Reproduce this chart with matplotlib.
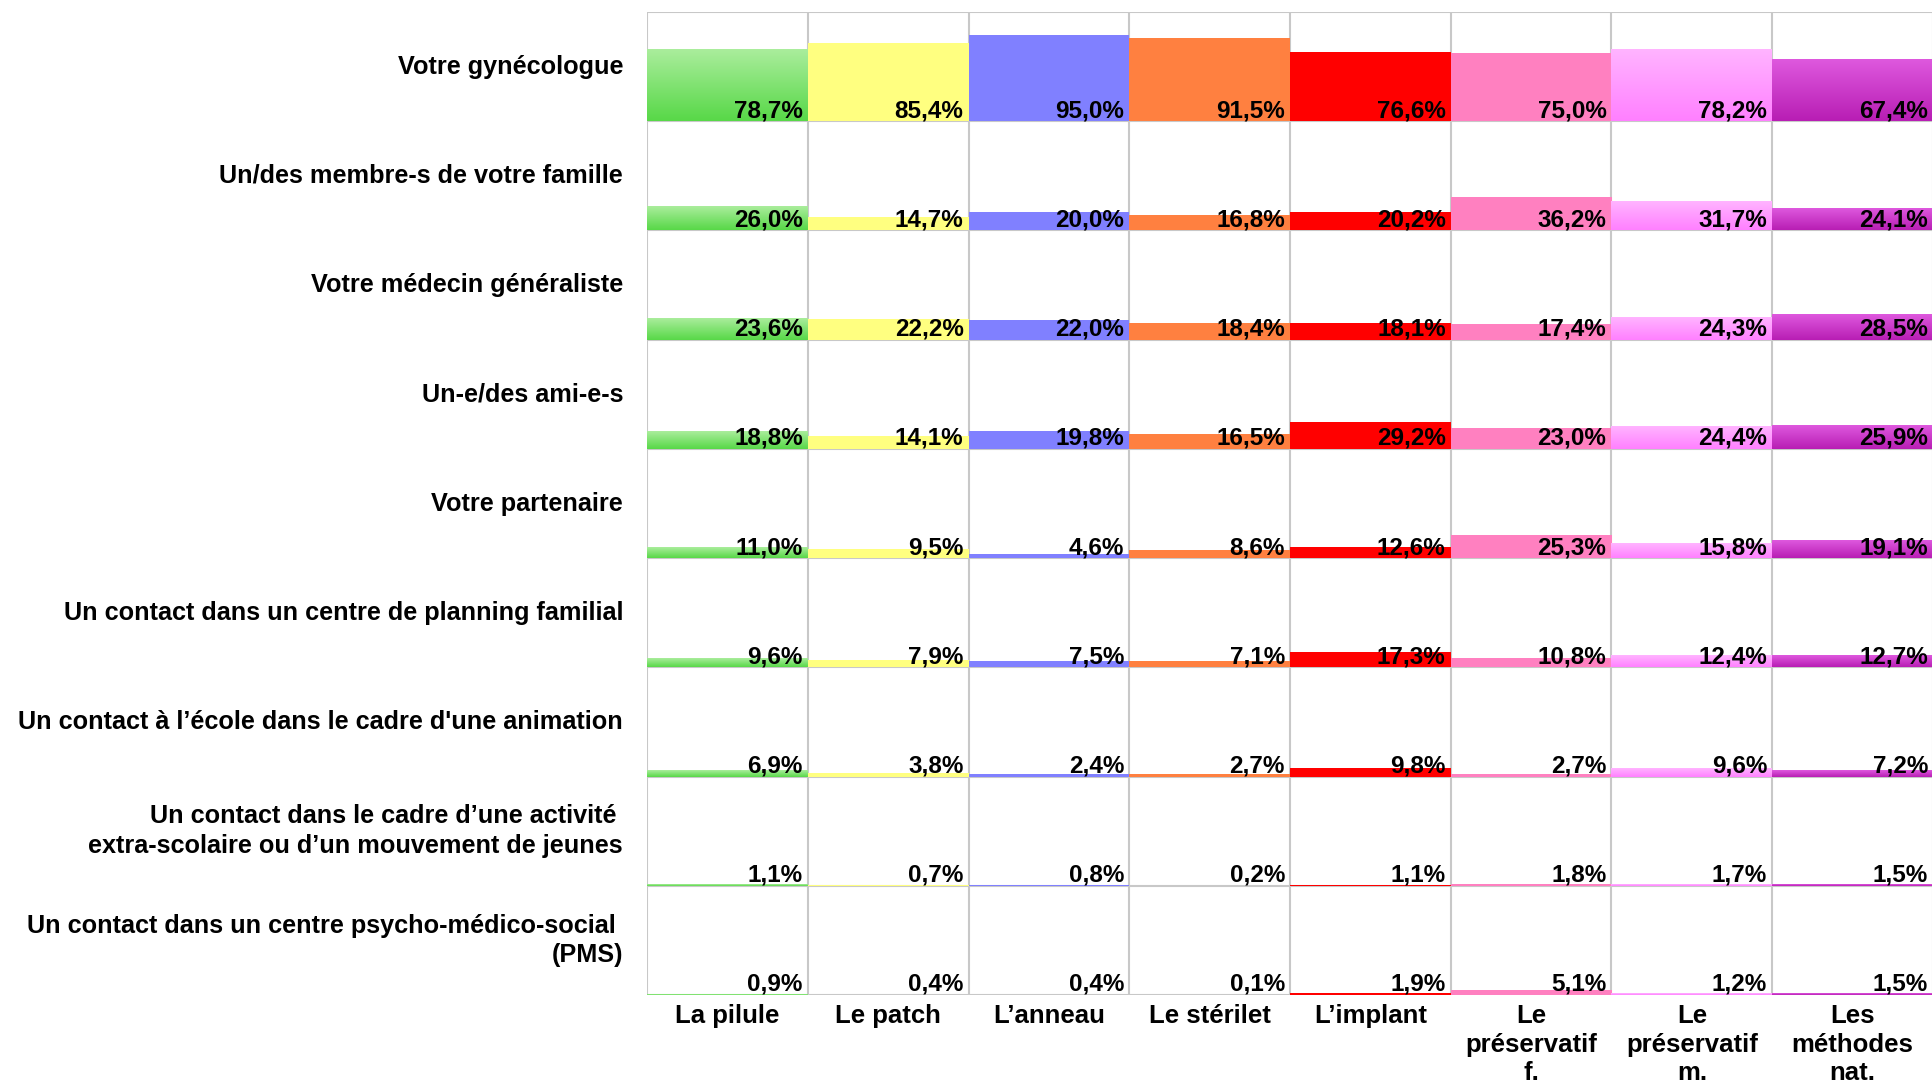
import numpy as np
import matplotlib
matplotlib.use('Agg')
import matplotlib.pyplot as plt
from matplotlib.colors import to_rgb

plt.rcParams['font.family'] = ['Liberation Sans', 'DejaVu Sans']
plt.rcParams['font.weight'] = 'bold'
plt.rcParams['font.size'] = 17

sources = ['Votre gynécologue',
           'Un/des membre-s de votre famille',
           'Votre médecin généraliste',
           'Un-e/des ami-e-s',
           'Votre partenaire',
           'Un contact dans un centre de planning familial',
           'Un contact à l’école dans le cadre d\'une animation',
           'Un contact dans le cadre d’une activité \nextra-scolaire ou d’un mouvement de jeunes',
           'Un contact dans un centre psycho-médico-social \n(PMS)']
methods = ['La pilule', 'Le patch', 'L’anneau', 'Le stérilet', 'L’implant',
           'Le\npréservatif\nf.', 'Le\npréservatif\nm.', 'Les\nméthodes\nnat.']

gyneco      = [78.7, 85.4, 95.0, 91.5, 76.6, 75.0, 78.2, 67.4]
famille     = [26.0, 14.7, 20.0, 16.8, 20.2, 36.2, 31.7, 24.1]
generaliste = [23.6, 22.2, 22.0, 18.4, 18.1, 17.4, 24.3, 28.5]
amis        = [18.8, 14.1, 19.8, 16.5, 29.2, 23.0, 24.4, 25.9]
partenaire  = [11.0, 9.5, 4.6, 8.6, 12.6, 25.3, 15.8, 19.1]
planning    = [9.6, 7.9, 7.5, 7.1, 17.3, 10.8, 12.4, 12.7]
ecole       = [6.9, 3.8, 2.4, 2.7, 9.8, 2.7, 9.6, 7.2]
extrascol   = [1.1, 0.7, 0.8, 0.2, 1.1, 1.8, 1.7, 1.5]
pms         = [0.9, 0.4, 0.4, 0.1, 1.9, 5.1, 1.2, 1.5]
values = [gyneco, famille, generaliste, amis, partenaire, planning, ecole, extrascol, pms]

# top / bottom colour of each column's bars
col_top = ['#aaed9c', '#ffff80', '#8080ff', '#ff8040', '#ff0000', '#ff80c0', '#ffb4ff', '#de58de']
col_bot = ['#58d848', '#ffff80', '#8080ff', '#ff8040', '#ff0000', '#ff80c0', '#ff80ff', '#b81eb4']

ymax = 120.0  # each row scaled 0..120 %
nrow = len(sources)
ncol = len(methods)

W, H = 1933, 1086
fig = plt.figure(figsize=(W / 100, H / 100), dpi=100)
ax = fig.add_axes([647 / W, 91 / H, 1286 / W, 983 / H])

for i, row in enumerate(values):
    base = nrow - 1 - i
    for j, v in enumerate(row):
        h = v / ymax
        ax.bar(j, h, width=1.0, bottom=base, align='edge', color=col_bot[j], lw=0, zorder=2)
        if col_top[j] != col_bot[j]:
            t = np.linspace(0, 1, 64)[:, None]
            c0 = np.array(to_rgb(col_bot[j]))
            c1 = np.array(to_rgb(col_top[j]))
            img = (c0 * (1 - t) + c1 * t)[:, None, :]
            ax.imshow(img, extent=(j, j + 1, base, base + h), origin='lower',
                      aspect='auto', interpolation='bilinear', zorder=2.5)
        ax.annotate(f'{v:.1f}%'.replace('.', ','), (j + 1, base),
                    xytext=(-5, 4), textcoords='offset pixels',
                    ha='right', va='baseline', fontsize=17.5, fontweight='bold',
                    zorder=4)
    ax.annotate(sources[i], (0, base + 0.5), xytext=(-24, 0), textcoords='offset pixels',
                ha='right', va='center', multialignment='right', linespacing=1.3,
                fontsize=18.2, fontweight='bold', annotation_clip=False)

for j, m in enumerate(methods):
    ax.annotate(m, (j + 0.5, 0), xytext=(0, -9), textcoords='offset pixels',
                ha='center', va='top', multialignment='center', linespacing=1.25,
                fontsize=18.5, fontweight='bold', annotation_clip=False)

gc = '#c8c8c8'
for k in range(nrow + 1):
    ax.axhline(k, color=gc, lw=1.5, zorder=1)
for k in range(ncol + 1):
    ax.axvline(k, color=gc, lw=1.5, zorder=1)

ax.set_xlim(0, ncol)
ax.set_ylim(0, nrow)
for s in ax.spines.values():
    s.set_visible(False)
ax.set_xticks([])
ax.set_yticks([])

fig.savefig('out.png', dpi=100, facecolor='white')
